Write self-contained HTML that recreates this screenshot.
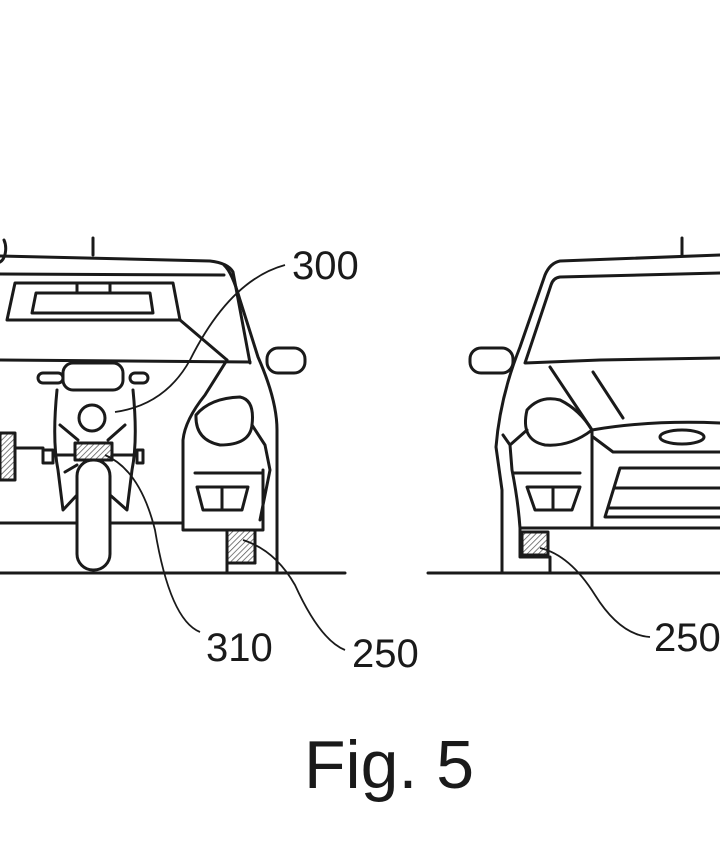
<!DOCTYPE html>
<html><head><style>html,body{margin:0;padding:0;background:#fff}svg{display:block}</style></head>
<body>
<svg width="720" height="845" viewBox="0 0 720 845" xmlns="http://www.w3.org/2000/svg">
<defs>
<pattern id="h" width="4" height="4" patternUnits="userSpaceOnUse" patternTransform="rotate(45)">
<rect width="4" height="4" fill="#fff"/><line x1="0" y1="0" x2="0" y2="4" stroke="#555" stroke-width="1.5"/></pattern>
</defs>
<g fill="none" stroke="#1a1a1a" stroke-width="3" stroke-linejoin="round" stroke-linecap="round">
<path d="M0,262 A8,14 0 0 0 4,240"/>
<line x1="93" y1="238" x2="93" y2="255"/>
<path d="M0,256 L210,261 Q228,263 233,272 L250,363"/>
<path d="M0,274 L224,275"/>
<path d="M224,265 Q232,272 240,300 L258,357 Q277,400 277,430 L277,573"/>
<path d="M15,283 L173,283 L180,320 L7,320 Z"/>
<path d="M36,293 L150,293 L153,313 L32,313 Z"/>
<path d="M77,283 L77,293 M110,283 L110,293"/>
<path d="M180,320 L227,360"/>
<path d="M0,360 L250,362"/>
<rect x="267" y="348" width="38" height="25" rx="11"/>
<path d="M227,360 L205,395 Q185,420 183,440 L183,530 L263,530 L263,470"/>
<path d="M196,415 Q210,398 240,397 Q255,400 252,425 Q250,445 220,445 Q195,440 196,415 Z"/>
<path d="M252,425 L265,445 L270,470 L260,520"/>
<path d="M195,473 L263,473"/>
<path d="M197,487 L248,487 L242,510 L203,510 Z M222,487 L222,510"/>
<path d="M0,523 L183,523"/>
<rect x="227" y="530" width="28" height="33" fill="url(#h)"/>
<path d="M227,530 L227,573 M255,563 L227,563"/>
<line x1="0" y1="573" x2="345" y2="573"/>
<rect x="63" y="363" width="60" height="27" rx="10"/>
<rect x="38" y="373" width="25" height="10" rx="5"/>
<rect x="130" y="373" width="18" height="10" rx="5"/>
<path d="M57,390 Q52,440 58,470 L63,510 L77,495 M133,390 Q138,440 132,470 L127,510 L110,495"/>
<circle cx="92" cy="418" r="13"/>
<path d="M60,425 L78,440 M125,425 L108,440"/>
<rect x="75" y="443" width="37" height="17" fill="url(#h)"/>
<rect x="43" y="450" width="10" height="13"/>
<rect x="137" y="450" width="6" height="13"/>
<path d="M0,448 L43,448 M53,455 L75,455 M112,455 L137,455 M65,472 L77,465"/>
<rect x="0" y="433" width="15" height="47" fill="url(#h)"/>
<rect x="77" y="460" width="33" height="110" rx="16" fill="#fff"/>
<line x1="682" y1="238" x2="682" y2="255"/>
<path d="M720,255 L560,261 Q550,263 545,275 L520,347 Q500,397 496,447 L502,490 L502,573"/>
<path d="M720,273 L560,277 Q553,278 551,285 L525,363 L600,360 L720,358"/>
<rect x="470" y="348" width="43" height="25" rx="11"/>
<path d="M550,367 L592,430 M593,372 L623,418"/>
<path d="M527,410 Q540,395 560,400 Q580,410 592,430 Q570,447 545,445 Q520,440 527,410 Z"/>
<path d="M527,430 L510,445 L503,435 M510,445 L512,470 Q518,500 520,528"/>
<path d="M592,430 Q650,420 720,423 M593,437 L613,452 L720,452"/>
<ellipse cx="682" cy="437" rx="22" ry="7"/>
<path d="M592,430 L592,528"/>
<path d="M720,468 L620,468 L605,517 L720,517 M614,488 L720,488 M608,508 L720,508"/>
<path d="M520,528 L720,528"/>
<path d="M513,473 L580,473"/>
<path d="M527,487 L580,487 L572,510 L535,510 Z M553,487 L553,510"/>
<rect x="522" y="532" width="26" height="23" fill="url(#h)"/>
<path d="M520,528 L520,557 L550,557 M550,557 L550,573"/>
<line x1="428" y1="573" x2="720" y2="573"/>
</g>
<g fill="none" stroke="#1a1a1a" stroke-width="1.8">
<path d="M115,412 Q165,405 190,360 Q230,280 285,265"/>
<path d="M105,455 Q140,470 155,530 Q170,620 200,632"/>
<path d="M243,540 Q275,550 295,585 Q320,640 345,650"/>
<path d="M540,548 Q570,555 595,595 Q620,635 650,637"/>
</g>
<g font-family="Liberation Sans, sans-serif" fill="#1a1a1a">
<text x="292" y="279" font-size="40">300</text>
<text x="206" y="661" font-size="40">310</text>
<text x="352" y="667" font-size="40">250</text>
<text x="654" y="651" font-size="40">250</text>
<text x="304" y="788" font-size="68">Fig. 5</text>
</g>
</svg>
</body></html>
